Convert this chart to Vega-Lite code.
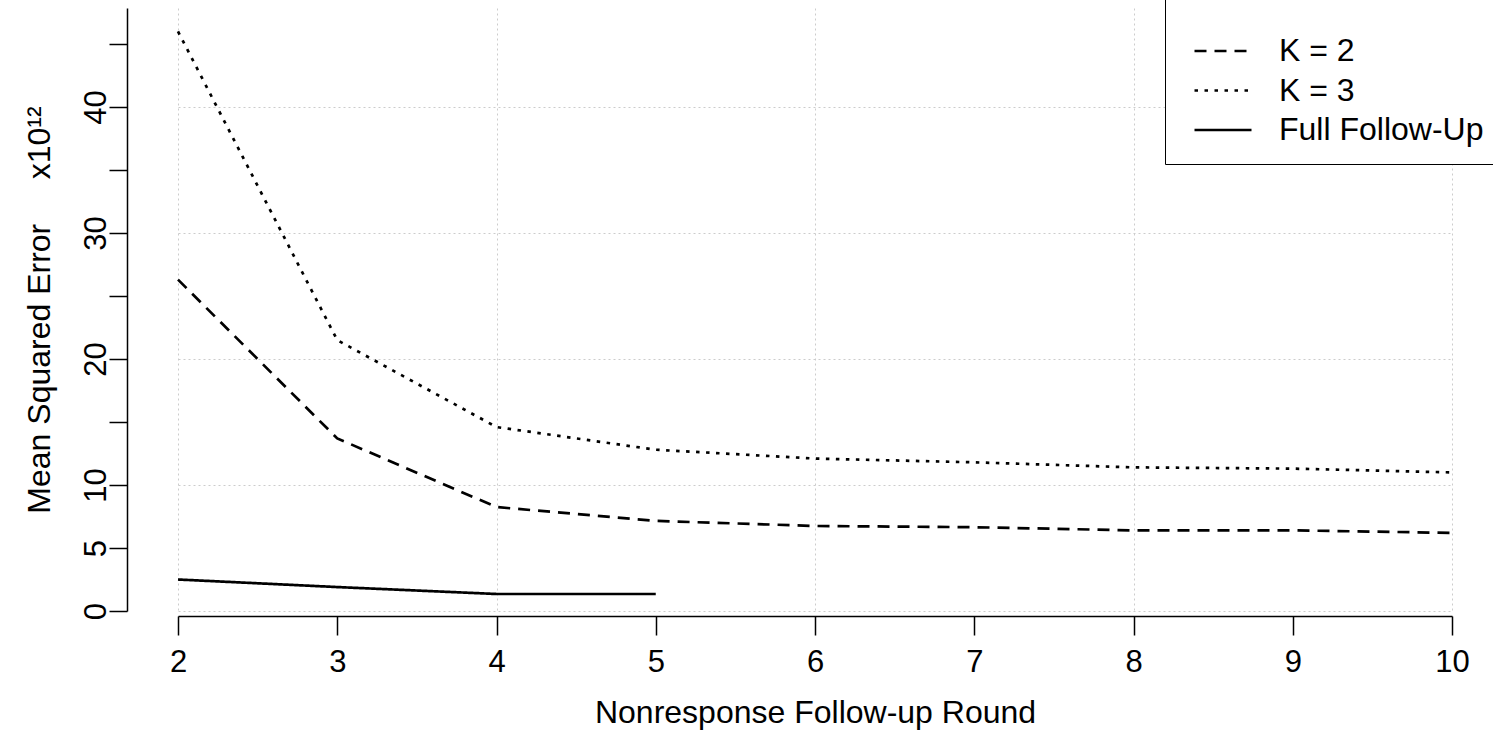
{
  "$schema": "https://vega.github.io/schema/vega-lite/v6.json",
  "width": 1366,
  "height": 603,
  "autosize": "none",
  "padding": {"left": 127, "top": 8, "right": 0, "bottom": 123},
  "background": "white",
  "config": {"view": {"stroke": null}, "font": "Liberation Sans"},
  "data": {
    "values": [
      {"round": 2, "mse": 26.3, "series": "K = 2"},
      {"round": 3, "mse": 13.7, "series": "K = 2"},
      {"round": 4, "mse": 8.25, "series": "K = 2"},
      {"round": 5, "mse": 7.15, "series": "K = 2"},
      {"round": 6, "mse": 6.75, "series": "K = 2"},
      {"round": 7, "mse": 6.65, "series": "K = 2"},
      {"round": 8, "mse": 6.4, "series": "K = 2"},
      {"round": 9, "mse": 6.4, "series": "K = 2"},
      {"round": 10, "mse": 6.2, "series": "K = 2"},
      {"round": 2, "mse": 46.0, "series": "K = 3"},
      {"round": 3, "mse": 21.5, "series": "K = 3"},
      {"round": 4, "mse": 14.6, "series": "K = 3"},
      {"round": 5, "mse": 12.8, "series": "K = 3"},
      {"round": 6, "mse": 12.1, "series": "K = 3"},
      {"round": 7, "mse": 11.8, "series": "K = 3"},
      {"round": 8, "mse": 11.4, "series": "K = 3"},
      {"round": 9, "mse": 11.3, "series": "K = 3"},
      {"round": 10, "mse": 11.0, "series": "K = 3"},
      {"round": 2, "mse": 2.5, "series": "Full Follow-Up"},
      {"round": 3, "mse": 1.9, "series": "Full Follow-Up"},
      {"round": 4, "mse": 1.35, "series": "Full Follow-Up"},
      {"round": 5, "mse": 1.35, "series": "Full Follow-Up"}
    ]
  },
  "mark": {"type": "line", "strokeWidth": 2.7, "color": "black", "strokeCap": "butt"},
  "encoding": {
    "x": {
      "field": "round",
      "type": "quantitative",
      "scale": {"domain": [2, 10], "range": [51, 1325], "nice": false, "zero": false},
      "axis": {
        "values": [2, 3, 4, 5, 6, 7, 8, 9, 10],
        "format": "d",
        "domainColor": "black",
        "domainWidth": 1.5,
        "tickColor": "black",
        "tickWidth": 1.5,
        "tickSize": 19,
        "offset": 5,
        "labelFontSize": 31,
        "labelColor": "black",
        "labelPadding": 12,
        "labelFlush": false,
        "labelOverlap": false,
        "grid": true,
        "gridColor": "#cccccc",
        "gridDash": [2, 3],
        "gridWidth": 1,
        "gridOpacity": {"condition": {"test": "datum.value % 2 === 0", "value": 1}, "value": 0},
        "title": "Nonresponse Follow-up Round",
        "titleFontSize": 32,
        "titleFontWeight": "normal",
        "titleColor": "black",
        "titlePadding": 20
      }
    },
    "y": {
      "field": "mse",
      "type": "quantitative",
      "scale": {"domain": [0, 47.86], "nice": false},
      "axis": {
        "values": [0, 5, 10, 15, 20, 25, 30, 35, 40, 45],
        "labelExpr": "(datum.value % 10 === 0 || datum.value === 5) ? datum.label : ''",
        "domainColor": "black",
        "domainWidth": 1.5,
        "tickColor": "black",
        "tickWidth": 1.5,
        "tickSize": 18,
        "labelFontSize": 31,
        "labelColor": "black",
        "labelAngle": -90,
        "labelAlign": "center",
        "labelBaseline": "alphabetic",
        "labelPadding": 4,
        "labelOverlap": false,
        "labelFlush": false,
        "grid": true,
        "gridColor": "#cccccc",
        "gridDash": [2, 3],
        "gridWidth": 1,
        "gridOpacity": {"condition": {"test": "datum.value % 10 === 0", "value": 1}, "value": 0},
        "title": "Mean Squared Error\u00a0\u00a0\u00a0\u00a0\u00a0x10¹²",
        "titleFontSize": 32,
        "titleFontWeight": "normal",
        "titleColor": "black",
        "titlePadding": 24,
        "titleLimit": 700
      }
    },
    "strokeDash": {
      "field": "series",
      "type": "nominal",
      "scale": {
        "domain": ["K = 2", "K = 3", "Full Follow-Up"],
        "range": [[12, 8], [3.5, 6.5], [1, 0]]
      },
      "legend": {
        "orient": "none",
        "legendX": 1038,
        "legendY": -26,
        "title": " ",
        "titleFontSize": 26,
        "titlePadding": 10,
        "padding": 17.5,
        "symbolOffset": 10.5,
        "symbolType": "stroke",
        "symbolSize": 3249,
        "symbolStrokeWidth": 2.7,
        "symbolStrokeColor": "black",
        "labelFontSize": 32,
        "labelColor": "black",
        "labelOffset": 26,
        "labelLimit": 500,
        "clipHeight": 31,
        "rowPadding": 6.5,
        "strokeColor": "black",
        "fillColor": "white"
      }
    }
  }
}
